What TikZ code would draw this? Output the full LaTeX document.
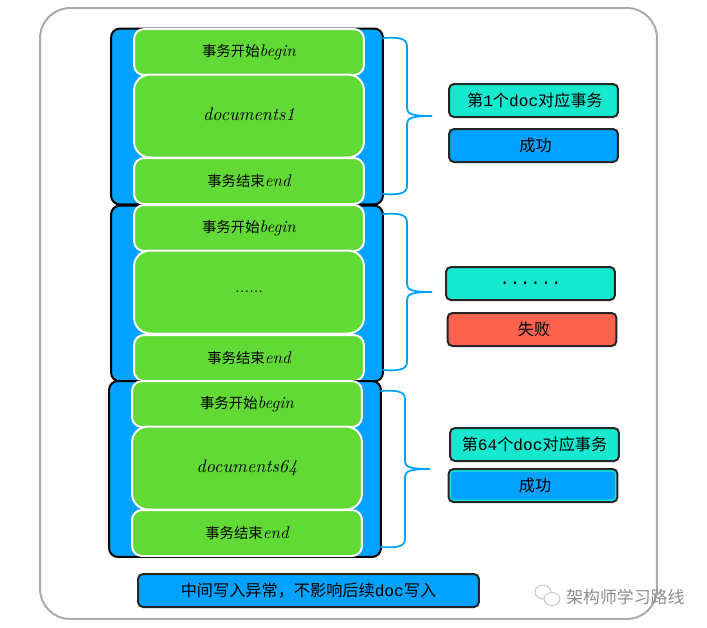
\documentclass[tikz,border=0pt]{standalone}
\usepackage{fontspec}
\setmonofont{Liberation Mono}
\newfontfamily\cjk{Noto Sans CJK SC}
\usetikzlibrary{positioning,arrows.meta}
\definecolor{BlockBlue}{RGB}{0,162,255}
\definecolor{StepGreen}{RGB}{98,218,54}
\definecolor{DocTeal}{RGB}{22,233,208}
\definecolor{FailRed}{RGB}{255,99,77}
\newcommand{\zh}[1]{{\cjk #1}}
\newcommand{\lat}[1]{{\fontsize{9.6pt}{11pt}\selectfont\itshape #1}}
\newcommand{\up}[1]{\raisebox{0.03cm}{#1}}

\begin{document}
\begin{tikzpicture}[
  x=0.02cm, y=-0.02cm,
  font=\fontsize{8.2pt}{10pt}\selectfont,
  frame/.style={draw=black!33, line width=0.04cm, rounded corners=0.6cm,
    fill=white, minimum width=12.34cm, minimum height=12.22cm},
  block/.style={draw=black, line width=0.04cm, rounded corners=0.18cm, fill=BlockBlue,
    minimum width=5.44cm, minimum height=3.52cm},
  stepbox/.style={draw=white, line width=0.04cm, rounded corners=0.2cm, fill=StepGreen,
    inner sep=0pt, minimum width=4.6cm, minimum height=0.92cm},
  docbox/.style={stepbox, rounded corners=0.32cm, minimum height=1.66cm},
  tagbox/.style={draw=black!85, line width=0.04cm, rounded corners=0.1cm, inner sep=0pt,
    minimum width=3.38cm, minimum height=0.66cm, font=\fontsize{9.2pt}{11pt}\selectfont},
  doctag/.style={tagbox, fill=DocTeal},
  oktag/.style={tagbox, fill=BlockBlue},
  failtag/.style={tagbox, fill=FailRed},
  note/.style={tagbox, fill=BlockBlue, minimum width=6.82cm},
  inset/.style={fill=BlockBlue, rounded corners=0.06cm, inner sep=0pt,
    minimum width=3.28cm, minimum height=0.56cm, font=\fontsize{9.2pt}{11pt}\selectfont},
  mark text/.style={text=black!45, font=\fontsize{9.6pt}{11pt}\selectfont},
  brc/.style={draw=BlockBlue, line width=0.035cm, line cap=round},
  logo/.style={draw=black!22, line width=0.02cm, fill=white},
  txbrace/.pic={
    \draw[brc] (-49,-78) .. controls (-34,-79) and (-25,-78) .. (-25,-70)
      -- (-25,-8) .. controls (-25,-2) and (-20,0) .. (0,0)
      .. controls (-20,0) and (-25,2) .. (-25,8)
      -- (-25,70) .. controls (-25,78) and (-34,79) .. (-49,78);
  },
]
\useasboundingbox (0,0) rectangle (707,627);
\node[frame] (outer) at (348.5,313.5) {};

\node[block] (blocka) at (247,116.5) {};
\node[stepbox] (begina) at (249,52) {\up{\zh{事务开始}\lat{begin}}};
\node[docbox] (doca) at (249,116) {\raisebox{0.08cm}{\fontsize{10.3pt}{12pt}\selectfont\itshape documents1}};
\node[stepbox] (enda) at (249,181) {\up{\zh{事务结束}\lat{end}}};

\node[block] (blockb) at (247,293.5) {};
\node[stepbox] (beginb) at (249,228) {\up{\zh{事务开始}\lat{begin}}};
\node[docbox] (docb) at (249,292) {\itshape ......};
\node[stepbox] (endb) at (249,358) {\up{\zh{事务结束}\lat{end}}};

\node[block] (blockc) at (245,469) {};
\node[stepbox] (beginc) at (247,404) {\up{\zh{事务开始}\lat{begin}}};
\node[docbox] (docc) at (247,468) {\raisebox{0.05cm}{\fontsize{10.3pt}{12pt}\selectfont\itshape documents64}};
\node[stepbox] (endc) at (247,533) {\up{\zh{事务结束}\lat{end}}};

\pic at (432,116) {txbrace};
\pic at (432,292) {txbrace};
\pic at (430,469) {txbrace};

\node[doctag] (taga) at (533.5,100.5) {\hspace*{0.06cm}\up{\zh{第}{\ttfamily 1}\zh{个}{\ttfamily doc}\zh{对应事务}}};
\node[oktag] (oka) at (533.5,145.5) {\hspace*{0.08cm}\zh{成功}};
\node[doctag] (tagb) at (530.5,283.5) {\fontsize{9.8pt}{11pt}\selectfont\texttt{......}};
\node[failtag] (fail) at (532,329.5) {\hspace*{0.08cm}\zh{失败}};
\node[doctag] (tagc) at (534.5,444.5) {\up{\zh{第}{\ttfamily 64}\zh{个}{\ttfamily doc}\zh{对应事务}}};
\node[doctag] (okc) at (533,485.5) {};
\node[inset] (oklabel) at (okc) {\hspace*{0.08cm}\zh{成功}};
\node[note] (notice) at (308.5,590.5) {\zh{中间写入异常，不影响后续}{\ttfamily doc}\zh{写入}};

\draw[logo] (543,592) ellipse (8 and 7);
\draw[logo] (552,599) ellipse (8 and 6.5);
\node[mark text, anchor=west, inner sep=0pt] (mark) at (566,597) {\zh{架构师学习路线}};
\end{tikzpicture}
\end{document}
